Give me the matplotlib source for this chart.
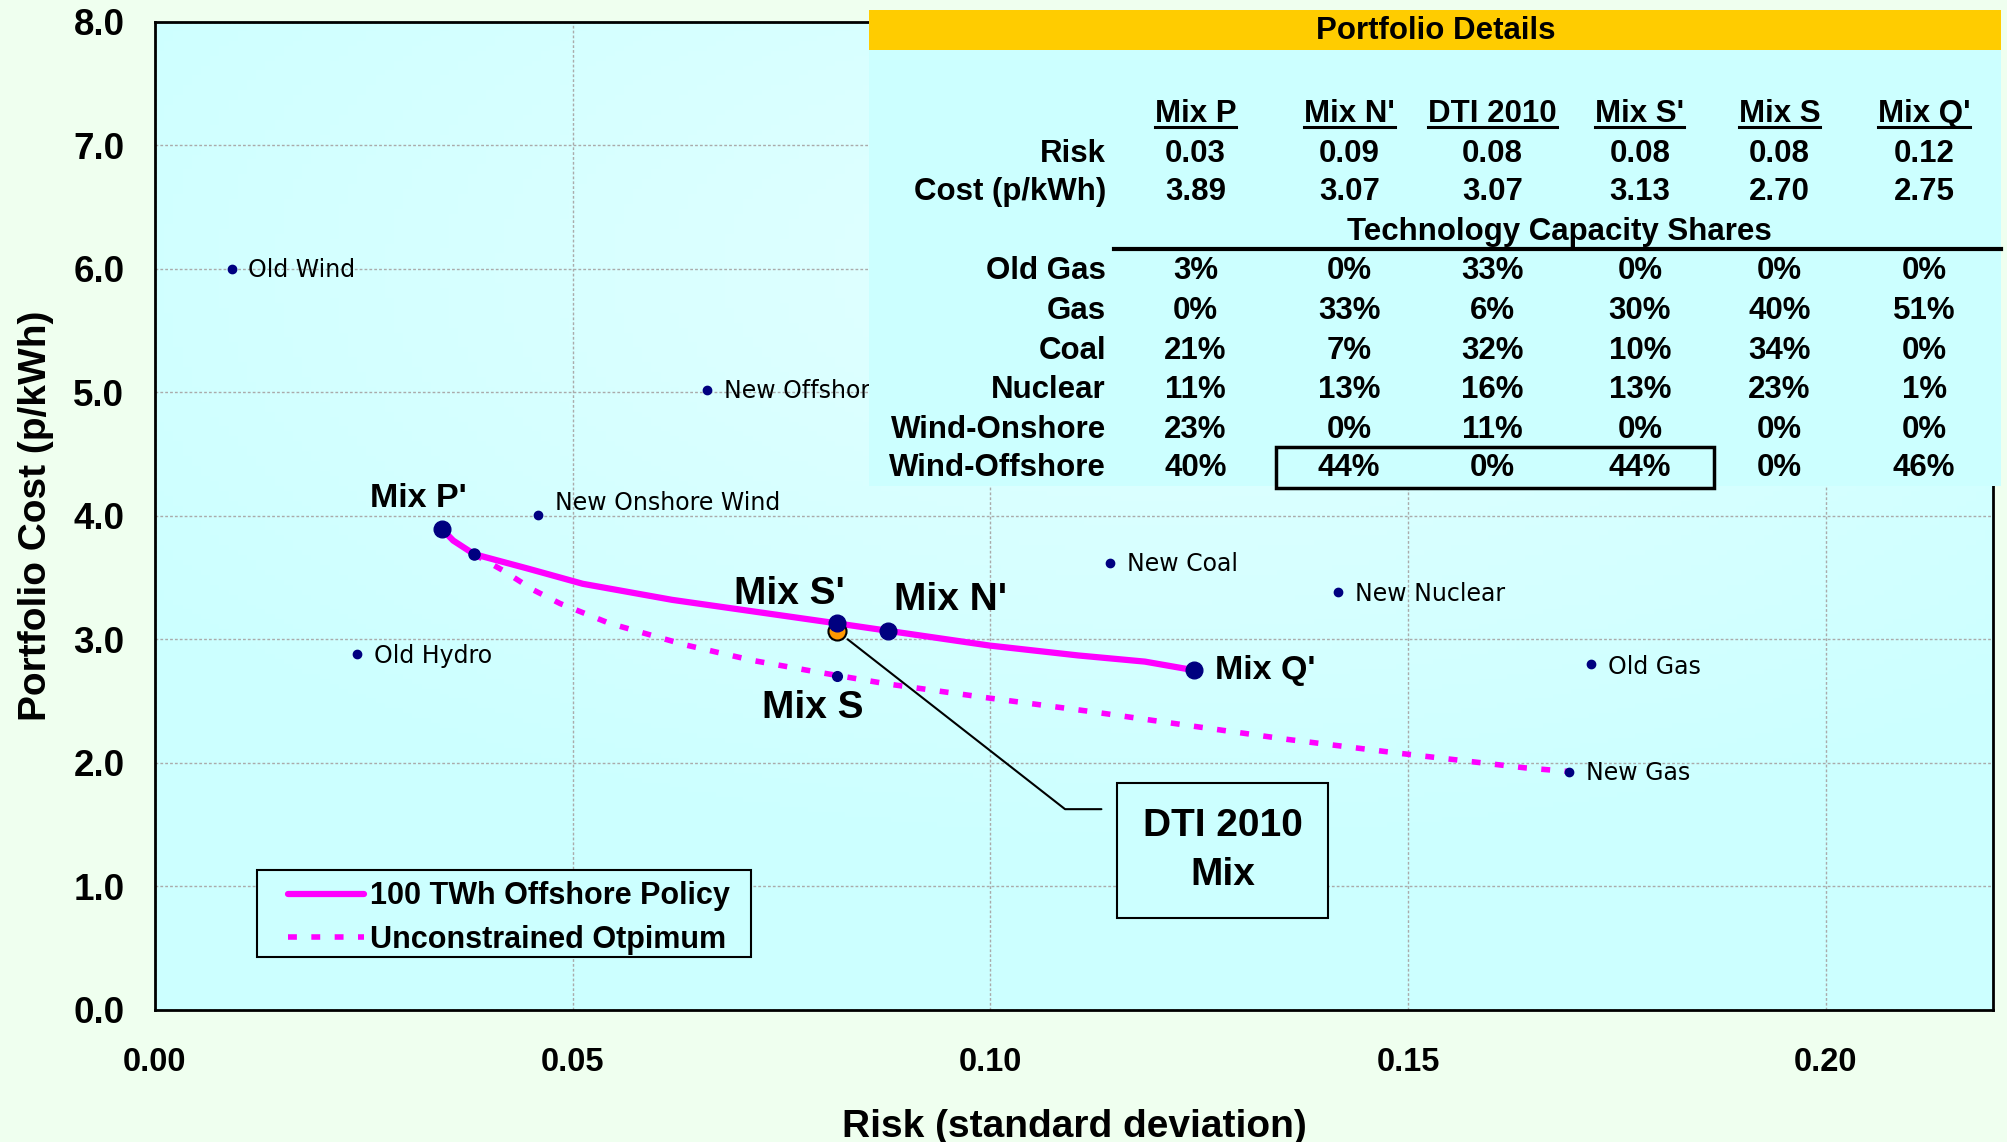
import numpy as np
import matplotlib
matplotlib.use("Agg")
import matplotlib.pyplot as plt
from matplotlib.patches import Rectangle
from matplotlib.ticker import FormatStrFormatter

# single technologies
tech_names = ["Old Wind", "New Offshore Wind", "New Onshore Wind", "Old Hydro",
              "New Coal", "New Nuclear", "Old Gas", "New Gas"]
tech_risk = [0.0092, 0.0661, 0.0459, 0.0242, 0.1143, 0.1416, 0.1719, 0.1693]
tech_cost = [6.00, 5.02, 4.01, 2.88, 3.62, 3.38, 2.80, 1.93]

# 100 TWh offshore policy frontier
policy_risk = [0.0344, 0.0357, 0.0382, 0.0448, 0.0512, 0.0619, 0.0816,
               0.0877, 0.0999, 0.1105, 0.1185, 0.1244]
policy_cost = [3.89, 3.80, 3.69, 3.57, 3.45, 3.32, 3.13,
               3.07, 2.95, 2.87, 2.82, 2.75]

# unconstrained frontier
free_risk = [0.0382, 0.0416, 0.0453, 0.0485, 0.0544, 0.0635, 0.0715, 0.0789,
             0.0876, 0.0993, 0.1121, 0.1240, 0.1356, 0.1487, 0.1640, 0.1693]
free_cost = [3.69, 3.56, 3.40, 3.29, 3.13, 2.955, 2.83, 2.74,
             2.64, 2.53, 2.415, 2.30, 2.19, 2.08, 1.96, 1.93]

# named mixes
mix_names = ["Mix P'", "Mix S'", "Mix N'", "Mix Q'"]
mix_risk = [0.0344, 0.0816, 0.0877, 0.1244]
mix_cost = [3.89, 3.13, 3.07, 2.75]
mix_s = (0.0816, 2.70)
dti_mix = (0.0816, 3.07)
kink = (0.0382, 3.69)

# portfolio details table
table_cols = ["Mix P", "Mix N'", "DTI 2010", "Mix S'", "Mix S", "Mix Q'"]
table_risk = [0.03, 0.09, 0.08, 0.08, 0.08, 0.12]
table_cost = [3.89, 3.07, 3.07, 3.13, 2.70, 2.75]
share_rows = ["Old Gas", "Gas", "Coal", "Nuclear", "Wind-Onshore", "Wind-Offshore"]
old_gas = [3, 0, 33, 0, 0, 0]
gas = [0, 33, 6, 30, 40, 51]
coal = [21, 7, 32, 10, 34, 0]
nuclear = [11, 13, 16, 13, 23, 1]
wind_onshore = [23, 0, 11, 0, 0, 0]
wind_offshore = [40, 44, 0, 44, 0, 46]

plt.rcParams['font.family'] = ['Liberation Sans', 'DejaVu Sans']
navy = '#000080'
magenta = '#FF00FF'

fig = plt.figure(figsize=(20.07, 11.42), dpi=100)
fig.patch.set_facecolor('#EFFFEF')
ax = fig.add_axes([0.0772, 0.1156, 0.9158, 0.8654])

# background shading
gx, gy = np.meshgrid(np.linspace(0, 1, 200), np.linspace(0, 1, 200))
r = np.clip(np.hypot((gx - 0.55) / 0.7, (gy - 0.75) / 0.6), 0, 1)
c_in = np.array([0.89, 1.0, 1.0])
c_out = np.array([0.80, 1.0, 1.0])
img = c_in + (c_out - c_in) * r[..., None]
ax.imshow(img, extent=[0, 1, 0, 1], transform=ax.transAxes, origin='lower',
          aspect='auto', zorder=-1)

ax.set_axisbelow(True)
ax.grid(True, color='#AAAAAA', linestyle=(0, (2, 1.5)), lw=1)

# frontiers
pl, = ax.plot(policy_risk, policy_cost, color=magenta, lw=4.5,
              solid_capstyle='round', label='100 TWh Offshore Policy', zorder=3)
fl, = ax.plot(free_risk, free_cost, color=magenta, lw=4, linestyle=(0, (1.6, 2.6)),
              dash_capstyle='butt', label='Unconstrained Otpimum', zorder=3)

# technologies
ax.plot(tech_risk, tech_cost, 'o', color=navy, ms=6, zorder=4, linestyle='none')
tech_dy = [-1, -1, 8, -1, -1, -1, -2, -1]
for name, x, y, dy in zip(tech_names, tech_risk, tech_cost, tech_dy):
    ax.annotate(name, (x, y), xytext=(12, dy), textcoords='offset points',
                va='center', ha='left', fontsize=17, family='DejaVu Sans', zorder=5)

ax.plot(*kink, 'o', color=navy, ms=8, zorder=4)
ax.plot(*mix_s, 'o', color=navy, ms=7, zorder=4)
ax.plot(dti_mix[0], dti_mix[1], 'o', color='#FF9900', mec='black', mew=1.5, ms=13, zorder=4)
ax.plot(mix_risk, mix_cost, 'o', color=navy, ms=12, zorder=5, linestyle='none')

mix_offsets = [(-17, 22), (-34, 21), (45, 22), (15, 0)]
mix_sizes = [24.5, 28, 28, 24.5]
mix_ha = ['center', 'center', 'center', 'left']
for name, x, y, off, fs, ha in zip(mix_names, mix_risk, mix_cost, mix_offsets, mix_sizes, mix_ha):
    ax.annotate(name, (x, y), xytext=off, textcoords='offset points',
                ha=ha, va='center', fontsize=fs, fontweight='bold', zorder=6)
ax.annotate("Mix S", mix_s, xytext=(-17, -22.5), textcoords='offset points',
            ha='center', va='center', fontsize=28, fontweight='bold', zorder=6)

# DTI callout
ax.annotate("DTI 2010\nMix", dti_mix, xytext=(0.1278, 1.29), textcoords='data',
            ha='center', va='center', fontsize=28, fontweight='bold', linespacing=1.45,
            bbox=dict(boxstyle='square,pad=0.65', fc='#CCFFFF', ec='black', lw=1.5),
            arrowprops=dict(arrowstyle='-', color='black', lw=1.5, relpos=(0, 0.99),
                            connectionstyle='angle,angleA=0,angleB=-38,rad=0',
                            shrinkA=11, shrinkB=10),
            zorder=6)

ax.set_xlim(0, 0.22)
ax.set_ylim(0, 8)
ax.set_xticks(np.arange(0, 0.201, 0.05))
ax.set_yticks(np.arange(0, 8.1, 1.0))
ax.xaxis.set_major_formatter(FormatStrFormatter('%.2f'))
ax.yaxis.set_major_formatter(FormatStrFormatter('%.1f'))
ax.tick_params(axis='x', length=0, pad=27, labelsize=23.5)
ax.tick_params(axis='y', length=0, pad=22, labelsize=26.5)
for lab in ax.get_xticklabels() + ax.get_yticklabels():
    lab.set_fontweight('bold')
for sp in ax.spines.values():
    sp.set_linewidth(2)
    sp.set_color('black')
ax.set_xlabel("Risk (standard deviation)", fontsize=28, fontweight='bold', labelpad=22)
ax.set_ylabel("Portfolio Cost (p/kWh)", fontsize=28, fontweight='bold', labelpad=14)

# legend with its own frame
ax.add_patch(Rectangle((0.0557, 0.0532), 0.2688, 0.0881, transform=ax.transAxes,
                       fc='#CCFFFF', ec='black', lw=1.5, zorder=6))
leg = ax.legend(handles=[pl, fl], loc='center left', bbox_to_anchor=(0.0724, 0.0928),
                borderaxespad=0, borderpad=0, frameon=False, handlelength=2.5,
                handletextpad=0.17, prop={'size': 22, 'weight': 'bold'},
                labelspacing=0.45)
leg.set_zorder(7)

# portfolio details table
tab = fig.add_axes([0.433, 0.574, 0.564, 0.417])
tab.set_xlim(0, 1)
tab.set_ylim(0, 1)
tab.axis('off')
tab.add_patch(Rectangle((0, 0), 1, 1, fc='#CCFFFF', ec='none', clip_on=False))
tab.add_patch(Rectangle((0, 0.9167), 1, 0.0833, fc='#FFCC00', ec='none', clip_on=False))
tfs = 22.5
tab.text(0.501, 0.957, "Portfolio Details", ha='center', va='center', fontsize=tfs, fontweight='bold')

col_x = [0.2885, 0.4242, 0.5509, 0.681, 0.8043, 0.9321]
label_x = 0.2093
headers = []
for cx, name in zip(col_x, table_cols):
    headers.append(tab.text(cx, 0.782, name, ha='center', va='center', fontsize=tfs, fontweight='bold'))

tab.text(label_x, 0.699, "Risk", ha='right', va='center', fontsize=tfs, fontweight='bold')
tab.text(label_x, 0.618, "Cost (p/kWh)", ha='right', va='center', fontsize=tfs, fontweight='bold')
for cx, rv, cv in zip(col_x, table_risk, table_cost):
    tab.text(cx, 0.699, f"{rv:.2f}", ha='center', va='center', fontsize=tfs, fontweight='bold')
    tab.text(cx, 0.618, f"{cv:.2f}", ha='center', va='center', fontsize=tfs, fontweight='bold')

tab.text(0.6097, 0.535, "Technology Capacity Shares", ha='center', va='center',
         fontsize=tfs, fontweight='bold')
tab.plot([0.216, 1.0], [0.498, 0.498], color='black', lw=3, clip_on=False)

share_vals = [old_gas, gas, coal, nuclear, wind_onshore, wind_offshore]
row_y = [0.452, 0.3687, 0.2853, 0.202, 0.1187, 0.038]
for ry, name, vals in zip(row_y, share_rows, share_vals):
    tab.text(label_x, ry, name, ha='right', va='center', fontsize=tfs, fontweight='bold')
    for cx, v in zip(col_x, vals):
        tab.text(cx, ry, f"{v}%", ha='center', va='center', fontsize=tfs, fontweight='bold')

tab.add_patch(Rectangle((0.3597, -0.003), 0.3869, 0.0863, fc='none', ec='black', lw=2.5,
                        clip_on=False))

# underline column headers
fig.canvas.draw()
inv = tab.transData.inverted()
for t in headers:
    bb = t.get_window_extent()
    (x0, y0), (x1, y1) = inv.transform([[bb.x0, bb.y0], [bb.x1, bb.y1]])
    tab.plot([x0, x1], [y0 + 0.004, y0 + 0.004], color='black', lw=2.2, clip_on=False)

fig.savefig("out.png", dpi=100, facecolor=fig.get_facecolor())
